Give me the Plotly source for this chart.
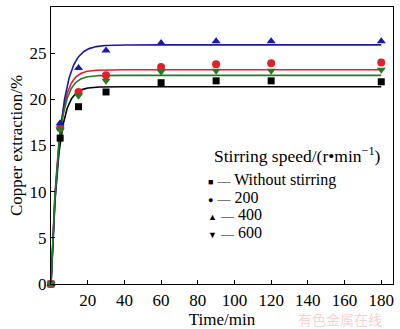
import numpy as np
import plotly.graph_objects as go

# Sampling times (min)
time_min = [0, 5, 15, 30, 60, 90, 120, 180]

# Copper extraction (%) for each stirring speed
cu_no_stir = [0, 15.8, 19.2, 20.8, 21.8, 22.0, 22.0, 21.9]
cu_200 = [0, 16.9, 20.8, 22.6, 23.5, 23.8, 23.9, 24.0]
cu_400 = [0, 17.4, 23.4, 25.3, 26.1, 26.3, 26.3, 26.3]
cu_600 = [0, 16.7, 20.4, 22.0, 23.0, 23.1, 23.1, 23.2]

series_names = ["Without stirring", "200", "400", "600"]

# First-order kinetic curve y = A(1 - exp(-k t)): plateau A (%) and rate k (1/min)
fit_plateau = [21.37, 23.2, 25.9, 22.6]
fit_rate = [0.25, 0.25, 0.20, 0.25]

colors = ["#000000", "#e0202a", "#1a1aa8", "#237a23"]
symbols = ["square", "circle", "triangle-up", "triangle-down"]
sizes = [7, 8, 8, 8]
series = [cu_no_stir, cu_200, cu_400, cu_600]

FONT = "Liberation Serif"

# Plot area in pixels (left, right, top, bottom)
PX_L, PX_R, PX_T, PX_B = 51, 394, 6, 286


def to_paper(px, py):
    return (px - PX_L) / (PX_R - PX_L), (PX_B - py) / (PX_B - PX_T)


fig = go.Figure()

t_fit = np.linspace(0, 180, 721)
for A, k, c in zip(fit_plateau, fit_rate, colors):
    fig.add_trace(go.Scatter(
        x=t_fit, y=A * (1 - np.exp(-k * t_fit)), mode="lines",
        line=dict(color=c, width=1.6), showlegend=False, hoverinfo="skip"))

for name, ys, c, s, sz in zip(series_names, series, colors, symbols, sizes):
    fig.add_trace(go.Scatter(
        x=time_min, y=ys, mode="markers", name=name,
        marker=dict(color=c, symbol=s, size=sz, line=dict(width=0)),
        cliponaxis=False, showlegend=False))

# Legend drawn as a text block
legend_glyphs = ["■", "●", "▲", "▼"]
legend_rows = [("Stirring speed/(r•min<sup>−1</sup>)", 212, 156, 17.5)]
for i, (g, n) in enumerate(zip(legend_glyphs, series_names)):
    legend_rows.append(
        (f"<span style='font-size:9px'>{g}</span> <span style='font-size:13px'>—</span> {n}",
         206, 181 + 17.6 * i, 16))
for text, px, py, fs in legend_rows:
    xp, yp = to_paper(px, py)
    fig.add_annotation(
        text=text, x=xp, y=yp, xref="paper", yref="paper",
        xanchor="left", yanchor="middle", showarrow=False,
        font=dict(family=FONT, size=fs, color="black"))

# Watermark
wx, wy = to_paper(341, 321)
fig.add_annotation(text="有色金属在线", x=wx, y=wy, xref="paper", yref="paper",
                   xanchor="center", yanchor="middle", showarrow=False,
                   font=dict(family="Noto Sans CJK SC", size=14, color="rgba(240,170,170,0.55)"))

axis_common = dict(
    showline=True, linecolor="black", linewidth=1.3, mirror=True,
    ticks="inside", ticklen=4, tickcolor="black", tickwidth=1,
    showgrid=False, zeroline=False,
    tickfont=dict(family=FONT, size=17, color="black"),
)

fig.update_xaxes(range=[0, 186.4], tickvals=[20, 40, 60, 80, 100, 120, 140, 160, 180],
                 title=dict(text="Time/min", font=dict(family=FONT, size=17, color="black"),
                            standoff=2),
                 **axis_common)
fig.update_yaxes(range=[0, 30], tickvals=[0, 5, 10, 15, 20, 25, 30],
                 title=dict(text="Copper extraction/%", font=dict(family=FONT, size=17, color="black"),
                            standoff=2),
                 **axis_common)

fig.update_layout(
    width=400, height=329,
    margin=dict(l=PX_L, r=400 - PX_R, t=PX_T, b=329 - PX_B),
    paper_bgcolor="white", plot_bgcolor="white",
    showlegend=False,
)

fig.write_html("out.html")
